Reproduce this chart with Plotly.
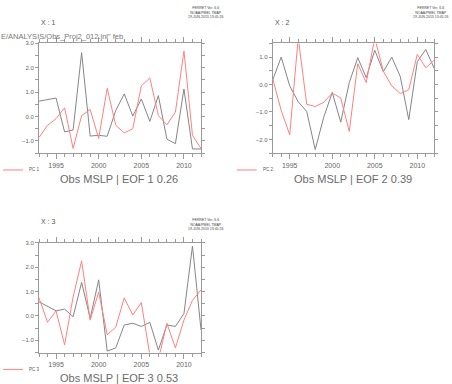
import plotly.graph_objects as go

years = list(range(1993, 2013))

# Panel 1 (EOF 1)
p1_gray = [0.63, 0.70, 0.76, -0.63, -0.55, 2.62, -0.80, -0.77, -0.81, 0.25,
           0.93, 0.02, 0.72, -0.20, 0.86, -0.93, -1.11, 1.13, -1.33, -1.33]
p1_red = [-0.86, -0.36, -0.09, 0.36, -1.31, 0.04, 0.29, -0.90, 1.16, -0.36,
          -0.67, -0.50, 1.26, 1.58, 0.04, -0.34, 0.18, 2.69, -0.77, -1.31]

# Panel 2 (EOF 2)
p2_gray = [0.17, 1.00, -0.05, -0.63, -0.98, -2.37, -1.19, -0.29, -1.37, 0.07,
           0.98, 0.25, 1.25, 0.47, 1.00, 0.29, -1.28, 0.83, 1.28, 0.58]
p2_red = [0.22, -0.95, -1.83, 1.70, -0.72, -0.80, -0.65, -0.31, -0.49, -1.71,
          0.76, 0.07, 1.70, 0.49, -0.05, -0.33, -0.19, 1.10, 0.61, 0.89]

# Panel 3 (EOF 3)
p3_gray = [0.58, 0.40, 0.21, 0.28, -0.03, 1.38, -0.10, 1.48, -1.44, -1.31,
           -0.37, -0.30, -0.43, -0.26, -1.40, -0.37, -0.43, 0.10, 2.87, -0.57]
p3_red = [0.75, -0.26, 0.21, -1.18, 0.78, 2.26, -0.17, 0.98, -0.77, -0.46,
          0.74, 0.04, 0.55, -1.60, -1.80, -0.30, -1.31, -0.17, 0.64, 1.07]

titles = ["Obs MSLP | EOF 1 0.26", "Obs MSLP | EOF 2 0.39", "Obs MSLP | EOF 3 0.53"]
labels = ["X : 1", "X : 2", "X : 3"]
legend_names = ["PC 1", "PC 2", "PC 3"]
yranges = [[-1.5, 3.0], [-2.5, 1.5], [-1.5, 3.0]]
xtickvals = [1995, 2000, 2005, 2010]

W, H = 452, 384
GRAY = "#858585"
RED = "#ff8080"
AX = "#9a9a9a"
TXT = "#666666"
FONT = "Liberation Sans"

# panel boxes in pixels: (left, right, top, bottom)
boxes = [(39, 201, 40.7, 151.3), (272.7, 434.3, 40.7, 151.3), (39, 201, 241.7, 352.3)]

fig = go.Figure()

def px_x(x):
    return x / W

def px_y(y):
    return 1 - y / H

series = [(p1_gray, p1_red), (p2_gray, p2_red), (p3_gray, p3_red)]
for i, (g, r) in enumerate(series):
    sfx = "" if i == 0 else str(i + 1)
    fig.add_trace(go.Scatter(x=years, y=g, mode="lines", line=dict(color=GRAY, width=1),
                             xaxis="x" + sfx, yaxis="y" + sfx, showlegend=False))
    fig.add_trace(go.Scatter(x=years, y=r, mode="lines", line=dict(color=RED, width=1),
                             xaxis="x" + sfx, yaxis="y" + sfx, showlegend=False))

layout = dict(width=W, height=H, margin=dict(l=0, r=0, t=0, b=0),
              paper_bgcolor="white", plot_bgcolor="white", showlegend=False,
              font=dict(family=FONT, color=TXT))

annotations = []
shapes = []
for i, (l, r, t, b) in enumerate(boxes):
    sfx = "" if i == 0 else str(i + 1)
    layout["xaxis" + sfx] = dict(
        domain=[px_x(l), px_x(r)], range=[1993, 2012], anchor="y" + sfx,
        tickvals=xtickvals, ticks="outside", ticklen=5, tickwidth=1, tickcolor=AX,
        showline=True, linecolor=AX, linewidth=1, mirror="allticks",
        showgrid=False, zeroline=False,
        tickfont=dict(size=7, color=TXT, family=FONT),
        minor=dict(dtick=1, tick0=1993, ticks="outside", ticklen=3, tickcolor=AX, showgrid=False),
    )
    layout["yaxis" + sfx] = dict(
        domain=[px_y(b), px_y(t)], range=yranges[i], anchor="x" + sfx,
        dtick=1.0, tick0=0, tickformat=".1f", ticks="outside", ticklen=3, tickwidth=1, tickcolor=AX,
        showline=True, linecolor=AX, linewidth=1, mirror="allticks",
        showgrid=False, zeroline=False,
        tickfont=dict(size=6, color=TXT, family=FONT),
        minor=dict(dtick=0.5, tick0=0, ticks="outside", ticklen=3, tickcolor=AX, showgrid=False),
    )
    cx = (l + r) / 2
    annotations.append(dict(text=titles[i], x=px_x(cx - 1), y=px_y(b + 26), xref="paper", yref="paper",
                            showarrow=False, xanchor="center", yanchor="middle",
                            font=dict(size=11, color="#6a6a6a", family=FONT)))
    annotations.append(dict(text=labels[i], x=px_x(l), y=px_y(t - 21), xref="paper", yref="paper",
                            showarrow=False, xanchor="left", yanchor="middle",
                            font=dict(size=7, color="#555555", family=FONT)))
    hx = r + 4 if i != 1 else r - 4
    annotations.append(dict(text="FERRET Ver. 6.6<br>NOAA/PMEL TMAP<br>19-JUN-2013 13:45:26",
                            x=px_x(hx), y=px_y(t - 40 + (13 if i == 2 else 0)), xref="paper", yref="paper",
                            showarrow=False, xanchor="center", yanchor="top",
                            font=dict(size=3.5, color="#444444", family=FONT)))
    lx0 = l - 36
    ly = b + 17
    shapes.append(dict(type="line", xref="paper", yref="paper",
                       x0=px_x(lx0), x1=px_x(lx0 + 20), y0=px_y(ly), y1=px_y(ly),
                       line=dict(color=RED, width=1)))
    annotations.append(dict(text=legend_names[i], x=px_x(lx0 + 24), y=px_y(ly), xref="paper", yref="paper",
                            showarrow=False, xanchor="left", yanchor="middle",
                            font=dict(size=4.5, color="#555555", family=FONT)))

annotations.append(dict(text="E/ANALYSIS/Obs_Proj2_012.jnl\" feb", x=px_x(-1), y=px_y(33.5),
                        xref="paper", yref="paper", showarrow=False, xanchor="left", yanchor="middle",
                        font=dict(size=7.5, color="#777777", family=FONT)))

layout["annotations"] = annotations
layout["shapes"] = shapes
fig.update_layout(**layout)
fig.write_html("out.html", config={"displayModeBar": False},
               post_script="document.body.style.margin='0px';document.body.style.overflow='hidden';")
